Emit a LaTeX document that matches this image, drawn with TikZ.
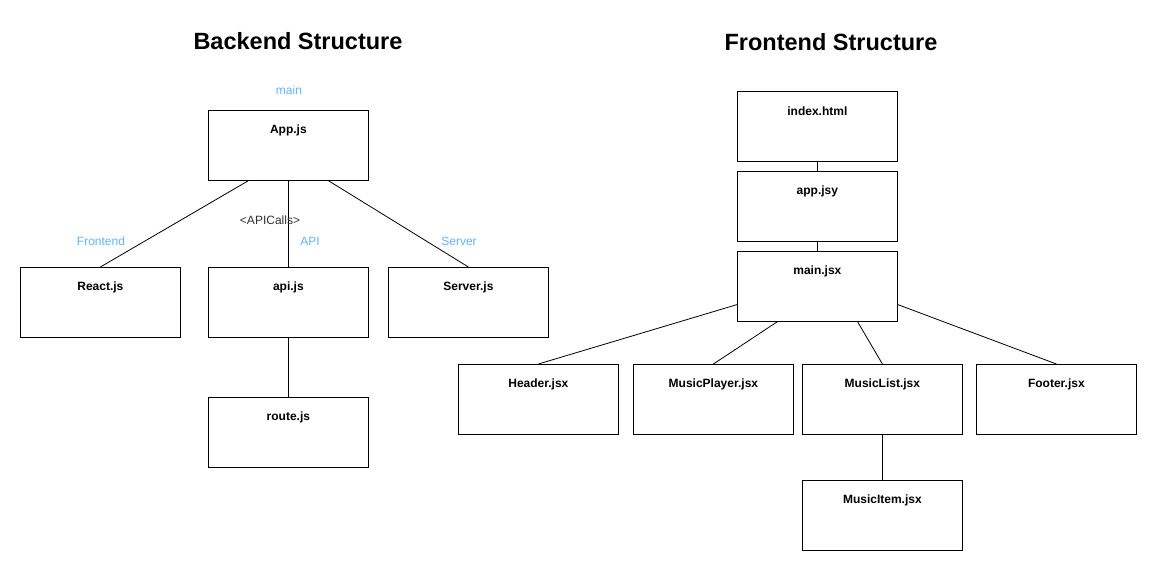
\documentclass[tikz,border=0pt]{standalone}
\usepackage{fontspec}
\setmainfont{Liberation Sans}
\usetikzlibrary{calc}
\definecolor{lblblue}{HTML}{66B2FF}
\definecolor{dgray}{HTML}{333333}
\tikzset{
  box/.style={draw, line width=0.8pt, minimum width=160pt, minimum height=70pt, anchor=north west, inner sep=0pt,
    label={[font=\fontsize{12}{14}\selectfont\bfseries, anchor=center, yshift=-20pt]north:#1}},
  conn/.style={draw, line width=0.8pt},
  title/.style={font=\fontsize{23.5}{28}\selectfont\bfseries, anchor=center},
  blue/.style={font=\fontsize{12}{14}\selectfont, text=lblblue, anchor=center, inner sep=0pt},
  grey/.style={font=\fontsize{12}{14}\selectfont, text=dgray, anchor=center, inner sep=0pt}
}
\begin{document}
\begin{tikzpicture}[x=1pt,y=-1pt]
\useasboundingbox (0,0) rectangle (1157,571);
\fill[white] (0,0) rectangle (1157,571);
% titles
\node[title] (tb) at (298,41) {Backend Structure};
\node[title] (tf) at (831,42) {Frontend Structure};
% backend boxes
\node[box=App.js] (app) at (208,110) {};
\node[box=React.js] (react) at (20,267) {};
\node[box=api.js] (api) at (208,267) {};
\node[box=Server.js] (server) at (388,267) {};
\node[box=route.js] (route) at (208,397) {};
% backend labels
\node[blue] (lmain) at (289,90) {main};
\node[blue] (lfront) at (101,241) {Frontend};
\node[blue] (lapi) at (310,241) {API};
\node[blue] (lserver) at (459,241) {Server};
% backend connectors
\draw[conn] ($(app.south west)!0.25!(app.south east)$) -- (react.north);
\draw[conn] (app.south) -- (api.north);
\draw[conn] ($(app.south west)!0.75!(app.south east)$) -- (server.north);
\draw[conn] (api.south) -- (route.north);
\node[grey] (lcalls) at (270,220) {<APICalls>};
% frontend boxes
\node[box=index.html] (index) at (737,91) {};
\node[box=app.jsy] (appjsy) at (737,171) {};
\node[box=main.jsx] (mainjsx) at (737,251) {};
\node[box=Header.jsx] (header) at (458,364) {};
\node[box=MusicPlayer.jsx] (player) at (633,364) {};
\node[box=MusicList.jsx] (list) at (802,364) {};
\node[box=Footer.jsx] (footer) at (976,364) {};
\node[box=MusicItem.jsx] (item) at (802,480) {};
% frontend connectors
\draw[conn] (index.south) -- (appjsy.north);
\draw[conn] (appjsy.south) -- (mainjsx.north);
\draw[conn] ($(mainjsx.north west)!0.757!(mainjsx.south west)$) -- (header.north);
\draw[conn] ($(mainjsx.south west)!0.25!(mainjsx.south east)$) -- (player.north);
\draw[conn] ($(mainjsx.south west)!0.75!(mainjsx.south east)$) -- (list.north);
\draw[conn] ($(mainjsx.north east)!0.757!(mainjsx.south east)$) -- (footer.north);
\draw[conn] (list.south) -- (item.north);
\end{tikzpicture}
\end{document}
